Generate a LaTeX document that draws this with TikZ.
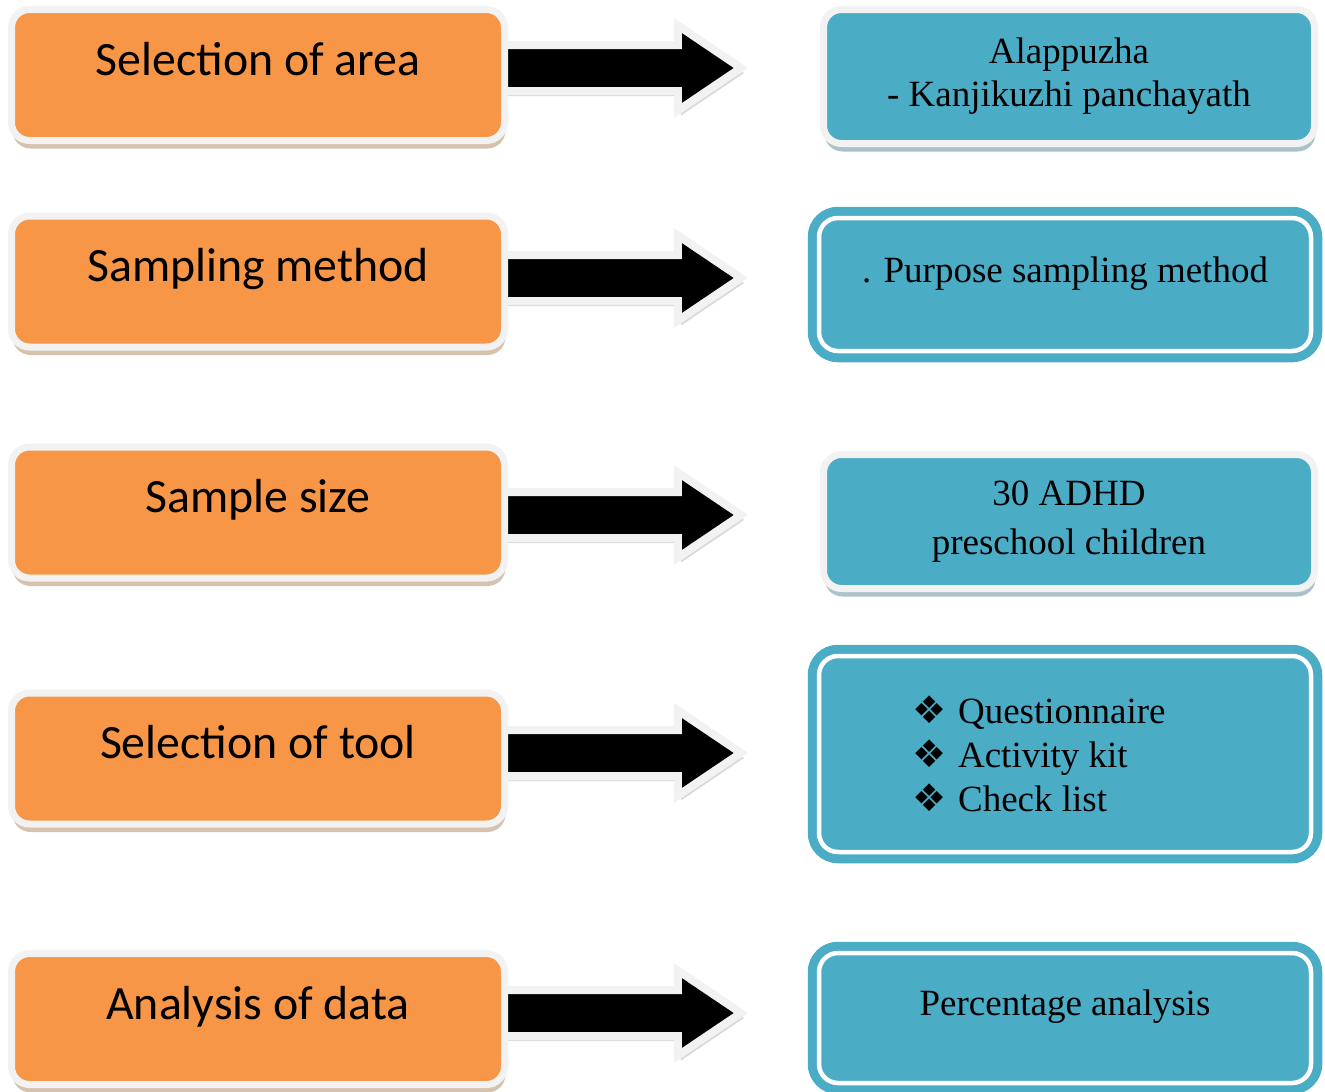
\documentclass[tikz,border=0pt]{standalone}
\usepackage{fontspec}
\setmainfont{Liberation Serif}
\newfontfamily\calibri{Carlito}
\newfontfamily\dejavu{DejaVu Sans}
\usepackage{xcolor}
\usetikzlibrary{positioning,shapes.arrows,shadows,backgrounds}
\definecolor{stepOrange}{HTML}{F79646}
\definecolor{resTeal}{HTML}{4BACC6}
\definecolor{rimGray}{HTML}{F2F2F2}

\begin{document}
\begin{tikzpicture}[x=1pt,y=-1pt,
	stage/.style={draw=rimGray,line width=7pt,fill=stepOrange,rounded corners=18pt,
		minimum width=493pt,minimum height=131pt,inner sep=0pt,
		font=\calibri\fontsize{47.8}{56}\selectfont,text height=30pt,text depth=30pt,
		drop shadow={shadow xshift=1pt,shadow yshift=-8pt,opacity=.4,fill=brown!80!black}},
	result/.style={draw=rimGray,line width=7pt,fill=resTeal,rounded corners=18pt,
		minimum width=491pt,minimum height=134pt,inner sep=0pt,align=center,
		font=\fontsize{37}{43}\selectfont,
		drop shadow={shadow xshift=1pt,shadow yshift=-8pt,opacity=.4,fill=resTeal!60!black}},
	resultring/.style={draw=resTeal,line width=9pt,double=white,double distance=4.5pt,
		fill=resTeal,rounded corners=19pt,minimum width=492pt,inner sep=0pt,
		font=\fontsize{37}{44}\selectfont},
	bigarrow/.style={single arrow,fill=black,draw=rimGray,line width=8pt,
		minimum width=77pt,minimum height=242pt,inner xsep=0pt,inner ysep=19pt,
		single arrow head extend=19.5pt,single arrow tip angle=68,anchor=tail,
		drop shadow={shadow xshift=3pt,shadow yshift=-5pt,opacity=.3,fill=gray}}]
	\useasboundingbox (0,0) rectangle (1325,1092);

	% left column
	\node[stage] (area) at (258,75) {Selection of area};
	\node[stage] (method) at (258,281.5) {Sampling method};
	\node[stage] (size) at (258,512.5) {Sample size};
	\node[stage] (tool) at (258,758.5) {Selection of tool};
	\node[stage] (analysis) at (258,1019) {Analysis of data};

	% right column
	\node[result] (place) at (1069,76.5) {Alappuzha\\- Kanjikuzhi panchayath};
	\node[resultring,minimum height=133pt,text height=25pt,text depth=30pt] (purpose) at (1065,284.5) {. Purpose sampling method};
	\node[result] (children) at (1069,521.5) {30 ADHD\\[6pt]preschool children};
	\node[resultring,minimum height=196pt,align=flush left,text width=306pt] (tools) at (1065,754)
		{{\dejavu\fontsize{38}{44}\selectfont ❖}\hspace{12pt}Questionnaire\\
		 {\dejavu\fontsize{38}{44}\selectfont ❖}\hspace{12pt}Activity kit\\
		 {\dejavu\fontsize{38}{44}\selectfont ❖}\hspace{12pt}Check list};
	\node[resultring,minimum height=130pt,text height=25pt,text depth=30pt] (percent) at (1065,1018) {Percentage analysis};

	% block arrows behind the boxes
	\begin{scope}[on background layer]
		\node[bigarrow] (arr1) at (495,68) {};
		\node[bigarrow] (arr2) at (495,278) {};
		\node[bigarrow] (arr3) at (495,515) {};
		\node[bigarrow] (arr4) at (495,753) {};
		\node[bigarrow] (arr5) at (495,1013) {};
	\end{scope}
\end{tikzpicture}
\end{document}
